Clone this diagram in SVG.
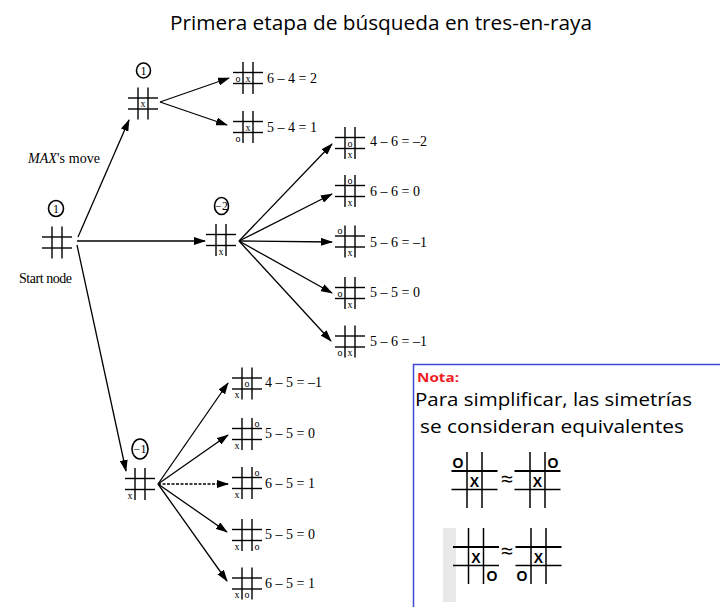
<svg xmlns="http://www.w3.org/2000/svg" xmlns:xlink="http://www.w3.org/1999/xlink" width="720" height="607" viewBox="0 0 720 607">
<style>
.gl{stroke:#000;stroke-width:1.4;fill:none}
.m{font-family:"Liberation Serif",serif;font-size:10px;fill:#000;text-anchor:middle}
.v{font-family:"Liberation Serif",serif;font-size:14px;fill:#000}
.c{fill:none;stroke:#000;stroke-width:1.6}
.cl{font-family:"Liberation Serif",serif;font-size:12px;fill:#000;text-anchor:middle}
.a{stroke:#000;stroke-width:1.3;fill:none;marker-end:url(#ah)}
.cal{font-family:"Open Sans","Liberation Sans",sans-serif;fill:#000}
.big{stroke:#000;stroke-width:1.5;fill:none}
.bm{font-family:"Liberation Sans",sans-serif;font-size:14px;font-weight:bold;fill:#000;text-anchor:middle}
</style>
<defs>
<marker id="ah" markerUnits="userSpaceOnUse" markerWidth="12" markerHeight="8" refX="11" refY="4" orient="auto">
<path d="M0,0 L12,4 L0,8 z" fill="#000"/>
</marker>
<g id="grid" class="gl">
<line x1="-5" y1="-16" x2="-5" y2="16"/>
<line x1="5" y1="-16" x2="5" y2="16"/>
<line x1="-15" y1="-5.5" x2="15" y2="-5.5"/>
<line x1="-15" y1="5.5" x2="15" y2="5.5"/>
</g>
<g id="bgrid" class="big">
<line x1="-7.5" y1="-19" x2="-7.5" y2="37"/>
<line x1="7.5" y1="-19" x2="7.5" y2="37"/>
<line x1="-23" y1="0" x2="23" y2="0" stroke-width="2.2"/>
<line x1="-23" y1="18.5" x2="23" y2="18.5"/>
</g>
</defs>

<text class="cal" x="170" y="30" font-size="20" textLength="422" lengthAdjust="spacingAndGlyphs">Primera etapa de búsqueda en tres-en-raya</text>

<g id="connectors">
<line class="a" x1="78" y1="237" x2="129" y2="120"/>
<line class="a" x1="77" y1="241" x2="205" y2="241"/>
<line class="a" x1="77" y1="245" x2="126" y2="471"/>
<line class="a" x1="160" y1="102" x2="229" y2="78"/>
<line class="a" x1="160" y1="102" x2="227" y2="125"/>
<line class="a" x1="239" y1="241" x2="332" y2="144"/>
<line class="a" x1="239" y1="241" x2="332" y2="194"/>
<line class="a" x1="239" y1="241" x2="332" y2="242"/>
<line class="a" x1="239" y1="241" x2="332" y2="293"/>
<line class="a" x1="239" y1="241" x2="331" y2="341"/>
<line class="a" x1="158" y1="484" x2="228" y2="383"/>
<line class="a" x1="158" y1="484" x2="228" y2="435"/>
<line class="a" x1="158" y1="484" x2="228" y2="484" stroke-width="0.9" stroke-dasharray="3 1.5"/>
<line class="a" x1="158" y1="484" x2="227" y2="532"/>
<line class="a" x1="158" y1="484" x2="227" y2="581"/>
</g>

<g id="start">
<ellipse class="c" cx="56" cy="208.5" rx="7.5" ry="8"/>
<text class="cl" x="56" y="213">1</text>
<use xlink:href="#grid" x="57" y="242.5"/>
<text class="v" x="19" y="283" font-size="13" textLength="53">Start node</text>
</g>

<text class="v" x="28" y="163" font-size="13" textLength="72"><tspan font-style="italic">MAX</tspan>'s move</text>

<g id="n1">
<ellipse class="c" cx="143.5" cy="70.5" rx="7" ry="7.5"/>
<text class="cl" x="143.5" y="74.5">1</text>
<use xlink:href="#grid" x="143" y="103.5"/>
<text class="m" x="143" y="107">x</text>
</g>
<g id="n1a">
<use xlink:href="#grid" x="248" y="78"/>
<text class="m" x="238" y="81.5">o</text><text class="m" x="248" y="81.5">x</text>
<text class="v" x="267" y="83">6 – 4 = 2</text>
</g>
<g id="n1b">
<use xlink:href="#grid" x="248" y="127"/>
<text class="m" x="248" y="130.5">x</text><text class="m" x="238" y="141.5">o</text>
<text class="v" x="267" y="132">5 – 4 = 1</text>
</g>

<g id="n2">
<ellipse class="c" cx="221.5" cy="206" rx="7" ry="8.5"/>
<text class="cl" x="221.5" y="209.5" font-size="10">−2</text>
<use xlink:href="#grid" x="221" y="240"/>
<text class="m" x="221" y="254.5">x</text>
</g>
<g id="n2a">
<use xlink:href="#grid" x="350" y="143"/>
<text class="m" x="350" y="146.5">o</text><text class="m" x="350" y="157.5">x</text>
<text class="v" x="370" y="146">4 – 6 = –2</text>
</g>
<g id="n2b">
<use xlink:href="#grid" x="350" y="191"/>
<text class="m" x="350" y="183.5">o</text><text class="m" x="350" y="205.5">x</text>
<text class="v" x="370" y="196">6 – 6 = 0</text>
</g>
<g id="n2c">
<use xlink:href="#grid" x="350" y="241.5"/>
<text class="m" x="340" y="234">o</text><text class="m" x="350" y="256">x</text>
<text class="v" x="370" y="247">5 – 6 = –1</text>
</g>
<g id="n2d">
<use xlink:href="#grid" x="350" y="293"/>
<text class="m" x="340" y="296.5">o</text><text class="m" x="350" y="307.5">x</text>
<text class="v" x="370" y="297">5 – 5 = 0</text>
</g>
<g id="n2e">
<use xlink:href="#grid" x="350" y="341.5"/>
<text class="m" x="340" y="356">o</text><text class="m" x="350" y="356">x</text>
<text class="v" x="370" y="346">5 – 6 = –1</text>
</g>

<g id="n3">
<ellipse class="c" cx="140" cy="449" rx="8" ry="10"/>
<text class="cl" x="140" y="452.5" font-size="10">−1</text>
<use xlink:href="#grid" x="140" y="484"/>
<text class="m" x="130" y="498.5">x</text>
</g>
<g id="n3a">
<use xlink:href="#grid" x="247" y="383.5"/>
<text class="m" x="247" y="387">o</text><text class="m" x="237" y="398">x</text>
<text class="v" x="265" y="387">4 – 5 = –1</text>
</g>
<g id="n3b">
<use xlink:href="#grid" x="247" y="434"/>
<text class="m" x="257" y="426.5">o</text><text class="m" x="237" y="448.5">x</text>
<text class="v" x="265" y="438">5 – 5 = 0</text>
</g>
<g id="n3c">
<use xlink:href="#grid" x="247" y="483"/>
<text class="m" x="257" y="475.5">o</text><text class="m" x="237" y="497.5">x</text>
<text class="v" x="265" y="488">6 – 5 = 1</text>
</g>
<g id="n3d">
<use xlink:href="#grid" x="247" y="535"/>
<text class="m" x="257" y="549.5">o</text><text class="m" x="237" y="549.5">x</text>
<text class="v" x="265" y="539">5 – 5 = 0</text>
</g>
<g id="n3e">
<use xlink:href="#grid" x="247" y="583.5"/>
<text class="m" x="247" y="598">o</text><text class="m" x="237" y="598">x</text>
<text class="v" x="265" y="588">6 – 5 = 1</text>
</g>

<g id="nota">
<rect x="413.5" y="364.5" width="320" height="260" fill="#fff" stroke="#3f48d8" stroke-width="1.5"/>
<text class="cal" x="417" y="382" font-size="13" font-weight="bold" style="fill:#ee1c24" textLength="42" lengthAdjust="spacingAndGlyphs">Nota:</text>
<text class="cal" x="415" y="406" font-size="18" textLength="277" lengthAdjust="spacingAndGlyphs">Para simplificar, las simetrías</text>
<text class="cal" x="420" y="433" font-size="18" textLength="264" lengthAdjust="spacingAndGlyphs">se consideran equivalentes</text>
<rect x="443" y="528" width="13" height="74" fill="#e8e8e8"/>
<use xlink:href="#bgrid" x="474.5" y="471"/>
<text class="bm" x="458" y="468">O</text><text class="bm" x="474.5" y="487">X</text>
<text class="cal" x="507" y="487" font-size="22" text-anchor="middle">≈</text>
<use xlink:href="#bgrid" x="537.5" y="471"/>
<text class="bm" x="553" y="468">O</text><text class="bm" x="537.5" y="487">X</text>
<use xlink:href="#bgrid" x="476" y="547"/>
<text class="bm" x="476" y="563">X</text><text class="bm" x="492" y="581">O</text>
<text class="cal" x="507" y="559" font-size="22" text-anchor="middle">≈</text>
<use xlink:href="#bgrid" x="538.5" y="547"/>
<text class="bm" x="538.5" y="563">X</text><text class="bm" x="522" y="581">O</text>
</g>
</svg>
